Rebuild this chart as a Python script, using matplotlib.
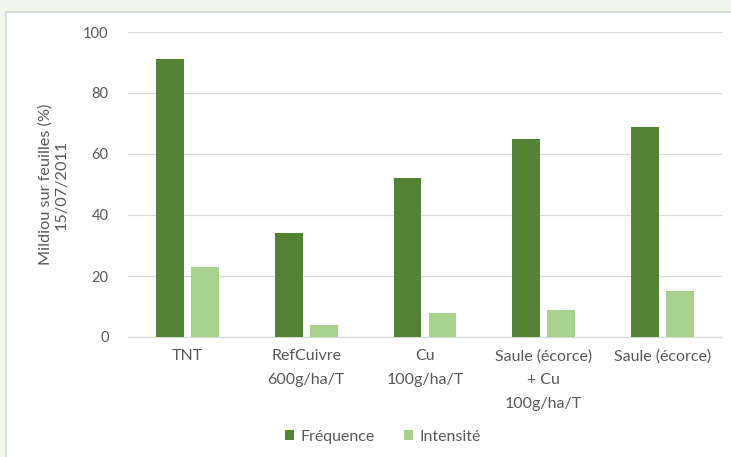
import matplotlib.pyplot as plt
import matplotlib.patches as mpatches
import numpy as np

categories = ["TNT", "RefCuivre\n600g/ha/T", "Cu\n100g/ha/T",
              "Saule (écorce)\n+ Cu\n100g/ha/T", "Saule (écorce)"]
frequence = [91, 34, 52, 65, 69]
intensite = [23, 4, 8, 9, 15]
yticks = [0, 20, 40, 60, 80, 100]

dark = "#548235"
light = "#a9d18e"
grey_text = "#595959"
grid_col = "#d9d9d9"

plt.rcParams["font.family"] = ["Lato", "DejaVu Sans"]

fig = plt.figure(figsize=(7.31, 4.57), dpi=100)
fig.patch.set_facecolor("#f1f7ed")

# white chart area with light border
panel = mpatches.Rectangle((6 / 731, -0.01), 1.0, 1 - 12 / 457 + 0.01,
                           transform=fig.transFigure, facecolor="white",
                           edgecolor="#d4d8d2", linewidth=1.2, zorder=-10)
fig.patches.append(panel)

ax = fig.add_axes([128 / 731, 1 - 337 / 457, (722 - 128) / 731, (337 - 32) / 457])
ax.set_facecolor("none")

x = np.arange(len(categories))
w = 0.235
off = 0.147
ax.bar(x - off, frequence, width=w, color=dark, label="Fréquence", zorder=3)
ax.bar(x + off, intensite, width=w, color=light, label="Intensité", zorder=3)

ax.set_xlim(-0.5, len(categories) - 0.5)
ax.set_ylim(0, 100)
ax.set_yticks(yticks)
ax.yaxis.grid(True, color=grid_col, linewidth=0.9, zorder=0)
for s in ["top", "right", "left"]:
    ax.spines[s].set_visible(False)
ax.spines["bottom"].set_color(grid_col)
ax.spines["bottom"].set_linewidth(0.9)
ax.tick_params(axis="both", length=0, colors=grey_text)
ax.tick_params(axis="y", pad=14, labelsize=10.5)
ax.tick_params(axis="x", pad=9, labelsize=11.5)
ax.set_xticks(x)
ax.set_xticklabels(categories, linespacing=1.85)

ax.set_ylabel("Mildiou sur feuilles (%)\n15/07/2011", fontsize=11.7,
              color=grey_text, labelpad=10, linespacing=1.2)

fig.legend(loc="center", bbox_to_anchor=(383 / 731, 1 - 437 / 457), ncol=2,
           frameon=False, fontsize=11.5, labelcolor=grey_text,
           handlelength=0.6, handleheight=0.6, handletextpad=0.4,
           columnspacing=1.8)

fig.savefig("out.png", dpi=100, facecolor=fig.get_facecolor())
